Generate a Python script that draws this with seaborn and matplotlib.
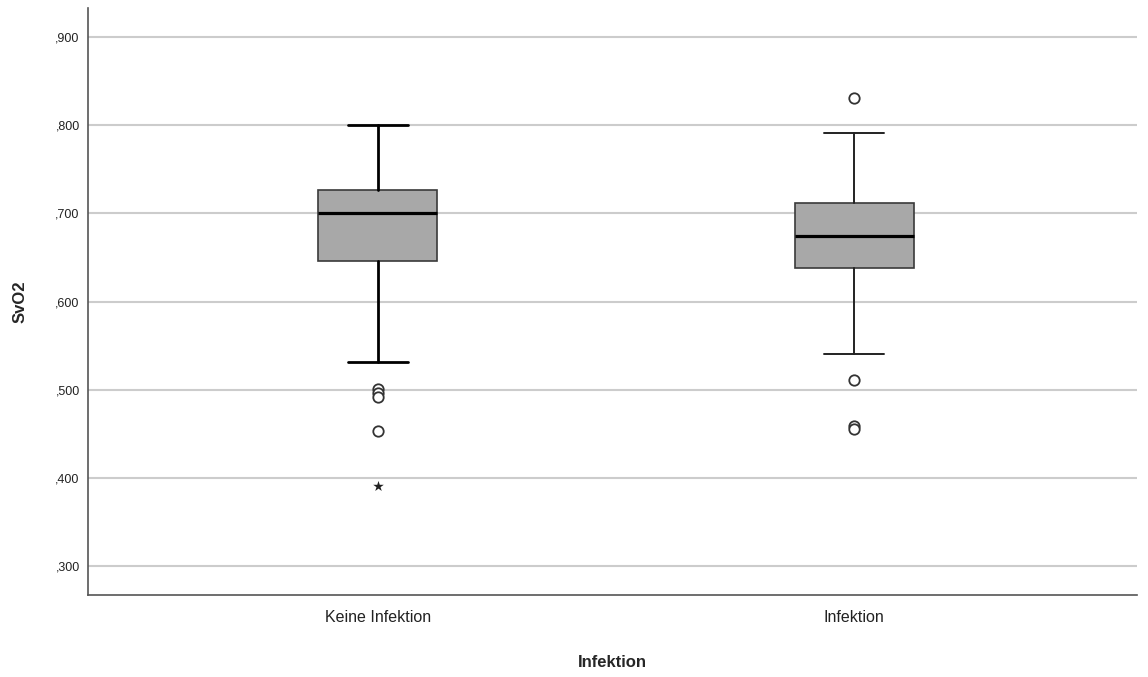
import numpy as np
import pandas as pd
import matplotlib
matplotlib.use('Agg')
import matplotlib.pyplot as plt
import seaborn as sns
from matplotlib.ticker import FuncFormatter

# summary values
groups       = ['Keine Infektion', 'Infektion']
whisker_low  = [0.531, 0.540]
q1           = [0.646, 0.638]
median       = [0.700, 0.674]
q3           = [0.727, 0.712]
whisker_high = [0.800, 0.791]

# outliers (circles) and extreme values (stars)
outlier_group = ['Keine Infektion'] * 4 + ['Infektion'] * 4
outlier_value = [0.501, 0.496, 0.492, 0.453, 0.831, 0.511, 0.459, 0.456]
extreme_group = ['Keine Infektion']
extreme_value = [0.391]

y_ticks = [0.3, 0.4, 0.5, 0.6, 0.7, 0.8, 0.9]

sns.set_style('white')
plt.rcParams['font.family'] = ['Liberation Sans', 'DejaVu Sans']

fig = plt.figure(figsize=(11.48, 6.77), dpi=100)
ax = fig.add_axes([0.0767, 0.121, 0.914, 0.867])

stats = []
for i, g in enumerate(groups):
    stats.append({'label': g, 'whislo': whisker_low[i], 'q1': q1[i],
                  'med': median[i], 'q3': q3[i], 'whishi': whisker_high[i],
                  'fliers': []})

ax.bxp(stats, positions=[0, 1], widths=0.25, showfliers=False,
       patch_artist=True, zorder=3,
       boxprops=dict(facecolor='#a8a8a8', edgecolor='#3a3a3a', linewidth=1.2),
       medianprops=dict(color='black', linewidth=2.3),
       whiskerprops=dict(color='#222222', linewidth=1.4),
       capprops=dict(color='#222222', linewidth=1.4))

# first group is drawn a bit heavier in the original
for ln in ax.lines[:4]:
    ln.set_linewidth(2.0)
    ln.set_color('black')

df_out = pd.DataFrame({'Infektion': outlier_group, 'SvO2': outlier_value})
df_ext = pd.DataFrame({'Infektion': extreme_group, 'SvO2': extreme_value})
sns.stripplot(data=df_out, x='Infektion', y='SvO2', order=groups, jitter=False,
              marker='o', size=7.5, color='white', edgecolor='#333333',
              linewidth=1.3, ax=ax, zorder=4)
sns.stripplot(data=df_ext, x='Infektion', y='SvO2', order=groups, jitter=False,
              marker='*', size=8, color='#222222', ax=ax, zorder=4)

ax.set_xlim(-0.609, 1.595)
ax.set_ylim(0.267, 0.933)
ax.set_yticks(y_ticks)
ax.yaxis.set_major_formatter(FuncFormatter(lambda v, p: ',' + ('%.3f' % v).split('.')[1]))
ax.set_xticks([0, 1])
ax.set_xticklabels(groups, fontsize=11.5, color='#222222')
ax.tick_params(axis='y', labelsize=9, colors='#222222', length=0, pad=6)
ax.tick_params(axis='x', length=0, pad=11)

ax.grid(axis='y', color='#cccccc', linewidth=1.5, zorder=0)
ax.set_axisbelow(True)
for s in ['top', 'right']:
    ax.spines[s].set_visible(False)
for s in ['left', 'bottom']:
    ax.spines[s].set_color('#555555')
    ax.spines[s].set_linewidth(1.2)

ax.set_xlabel('Infektion', fontsize=12, fontweight='bold', labelpad=21)
ax.set_ylabel('SvO2', fontsize=12, fontweight='bold', labelpad=20)

plt.savefig('out.png', dpi=100)
